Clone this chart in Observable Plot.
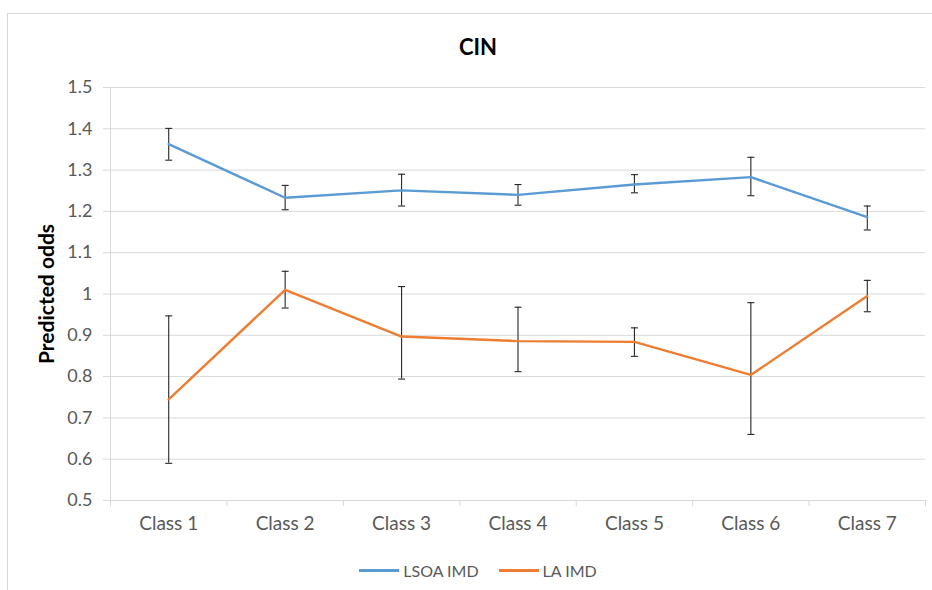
<!DOCTYPE html>
<html>
<head>
<meta charset="utf-8">
<script src="https://cdn.jsdelivr.net/npm/d3@7"></script>
<script src="https://cdn.jsdelivr.net/npm/@observablehq/plot@0.6"></script>
<style>
  html, body { margin: 0; padding: 0; background: #fff; }
  #chart { position: relative; width: 932px; height: 590px; overflow: hidden; box-sizing: border-box; font-family: Lato, "Open Sans", sans-serif; }
  #frame { position: absolute; left: 7px; top: 13px; width: 940px; height: 600px; border: 1px solid #d9d9d9; box-sizing: border-box; pointer-events: none; }
  #title { height: 70px; box-sizing: border-box; padding-top: 34px; padding-left: 24px; text-align: center; font-size: 22px; line-height: 26px; font-weight: bold; color: #000; }
  #legend { height: 40px; display: flex; justify-content: center; align-items: center; padding-left: 24px; font-size: 16px; color: #595959; }
  .sw { display: inline-block; width: 40px; height: 3px; margin-right: 4px; }
  .item { display: flex; align-items: center; margin: 0 10px; }
</style>
</head>
<body>
<div id="chart">
  <div id="frame"></div>
  <div id="title">CIN</div>
  <div id="plot"></div>
  <div id="legend"></div>
</div>
<script>
const categories = ["Class 1", "Class 2", "Class 3", "Class 4", "Class 5", "Class 6", "Class 7"];
const seriesNames = ["LSOA IMD", "LA IMD"];
const seriesColors = ["#5b9bd5", "#ed7d31"];
const lsoaValue = [1.363, 1.233, 1.251, 1.240, 1.265, 1.283, 1.186];
const lsoaLow   = [1.324, 1.204, 1.213, 1.215, 1.245, 1.238, 1.155];
const lsoaHigh  = [1.401, 1.263, 1.290, 1.265, 1.289, 1.331, 1.213];
const laValue = [0.745, 1.010, 0.897, 0.886, 0.884, 0.804, 0.995];
const laLow   = [0.590, 0.966, 0.794, 0.812, 0.849, 0.660, 0.957];
const laHigh  = [0.947, 1.055, 1.018, 0.968, 0.918, 0.979, 1.033];
const yTicks = [0.5, 0.6, 0.7, 0.8, 0.9, 1.0, 1.1, 1.2, 1.3, 1.4, 1.5];

const rows = [];
[[lsoaValue, lsoaLow, lsoaHigh], [laValue, laLow, laHigh]].forEach(([v, lo, hi], s) => {
  categories.forEach((c, i) => {
    rows.push({series: seriesNames[s], cat: c, pos: i + 0.5, value: v[i], low: lo[i], high: hi[i]});
  });
});
const edges = d3.range(categories.length + 1);
const mids = categories.map((c, i) => i + 0.5);

const capSymbol = {
  draw(context, size) {
    const w = Math.sqrt(size / Math.PI);
    context.moveTo(-w, 0);
    context.lineTo(w, 0);
  }
};

const chart = Plot.plot({
  width: 932,
  height: 480,
  marginTop: 17,
  marginBottom: 50,
  marginLeft: 110,
  marginRight: 7,
  style: {fontFamily: "Lato, 'Open Sans', sans-serif", background: "white", overflow: "visible"},
  x: {domain: [0, categories.length], axis: null},
  y: {domain: [0.5, 1.5], axis: null},
  color: {domain: seriesNames, range: seriesColors},
  marks: [
    Plot.gridY(yTicks, {stroke: "#d9d9d9", strokeOpacity: 1, strokeWidth: 1, insetLeft: -7}),
    Plot.ruleX([0], {stroke: "#d9d9d9", strokeWidth: 1}),
    Plot.axisX(edges, {tickSize: 6, tickFormat: () => "", stroke: "#d9d9d9", strokeOpacity: 1, label: null}),
    Plot.axisX(mids, {tickSize: 0, tickPadding: 16, tickFormat: d => categories[Math.floor(d)], fill: "#595959", fontSize: 19, label: null}),
    Plot.axisY(yTicks, {tickSize: 0, tickPadding: 18, tickFormat: d => String(d), fill: "#595959", fontSize: 18, label: null}),
    Plot.text(["Predicted odds"], {frameAnchor: "left", textAnchor: "middle", rotate: -90, dx: -63, fontWeight: "bold", fontSize: 21, fill: "#000"}),
    Plot.ruleX(rows, {x: "pos", y1: "low", y2: "high", stroke: "#262626", strokeWidth: 1.1}),
    Plot.dot(rows, {x: "pos", y: "low", symbol: capSymbol, r: 3.5, stroke: "#262626", strokeWidth: 1.1, fill: "none"}),
    Plot.dot(rows, {x: "pos", y: "high", symbol: capSymbol, r: 3.5, stroke: "#262626", strokeWidth: 1.1, fill: "none"}),
    Plot.line(rows, {x: "pos", y: "value", z: "series", stroke: "series", strokeWidth: 2.4, strokeLinejoin: "round", strokeLinecap: "round"})
  ]
});
document.getElementById("plot").appendChild(chart);

const legend = document.getElementById("legend");
seriesNames.forEach((name, i) => {
  const item = document.createElement("div");
  item.className = "item";
  const sw = document.createElement("span");
  sw.className = "sw";
  sw.style.background = seriesColors[i];
  const label = document.createElement("span");
  label.textContent = name;
  item.appendChild(sw);
  item.appendChild(label);
  legend.appendChild(item);
});
</script>
</body>
</html>
